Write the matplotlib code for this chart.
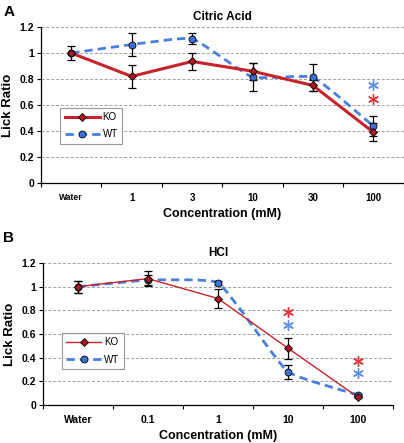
import numpy as np
import matplotlib
matplotlib.use('Agg')
import matplotlib.pyplot as plt
from matplotlib.path import Path
from matplotlib.patches import PathPatch

plt.rcParams['font.family'] = ['Liberation Sans', 'DejaVu Sans']
plt.rcParams['font.weight'] = 'bold'

# panel A - citric acid
cats_a = ['Water', '1', '3', '10', '30', '100']
ko_a = [1.0, 0.82, 0.935, 0.86, 0.75, 0.39]
ko_a_err = [0.055, 0.087, 0.064, 0.065, 0.045, 0.07]
wt_a = [1.0, 1.065, 1.11, 0.815, 0.813, 0.437]
wt_a_err = [0.0, 0.09, 0.042, 0.105, 0.105, 0.075]
star_a = {'wt': [(5, 0.75)], 'ko': [(5, 0.645)]}

# panel B - HCl
cats_b = ['Water', '0.1', '1', '10', '100']
ko_b = [1.0, 1.068, 0.90, 0.48, 0.065]
ko_b_err = [0.05, 0.065, 0.08, 0.09, 0.01]
wt_b = [1.0, 1.055, 1.032, 0.28, 0.085]
wt_b_err = [0.05, 0.04, 0.02, 0.06, 0.01]
star_b = {'ko': [(3, 0.79), (4, 0.37)], 'wt': [(3, 0.68), (4, 0.27)]}

RED = '#c8232b'
RED_FILL = '#a8191f'
BLUE = '#4a7fe0'
BLUE_FILL = '#3d6fd6'
STAR_RED = '#e8333b'
STAR_BLUE = '#5b8fea'

TENSION = 0.4


def smooth_path(ax, x, y):
    # bezier segments (spreadsheet style smoothing), built in pixel space
    pts = ax.transData.transform(np.column_stack([x, y]).astype(float))
    n = len(pts)
    verts = [pts[0]]
    codes = [Path.MOVETO]
    for i in range(n - 1):
        p0 = pts[i - 1] if i > 0 else pts[i]
        p1 = pts[i]
        p2 = pts[i + 1]
        p3 = pts[i + 2] if i + 2 < n else pts[i + 1]
        d01 = np.hypot(*(p1 - p0))
        d12 = np.hypot(*(p2 - p1))
        d23 = np.hypot(*(p3 - p2))
        f1 = d12 / (d01 + d12) if d01 > 0 else 0.5
        f2 = d12 / (d12 + d23) if d23 > 0 else 0.5
        c1 = p1 + (p2 - p0) * f1 * TENSION / 3.0
        c2 = p2 - (p3 - p1) * f2 * TENSION / 3.0
        verts += [c1, c2, p2]
        codes += [Path.CURVE4] * 3
    verts = ax.transData.inverted().transform(np.array(verts))
    return Path(verts, codes)


def panel(ax, cats, ko, ko_err, wt, wt_err, stars, title, ko_lw, water_fs, tick_fs):
    x = np.arange(len(cats))
    ax.set_xlim(-0.5, len(cats) - 0.5)
    ax.set_ylim(0, 1.2)
    ax.set_yticks(np.arange(0, 1.21, 0.2))
    ax.set_yticklabels(['0', '0.2', '0.4', '0.6', '0.8', '1', '1.2'])
    for v in np.arange(0.2, 1.21, 0.2):
        ax.axhline(v, color='#a0a0a0', lw=0.7, ls=(0, (3, 2)), zorder=0)

    # WT smoothed dashed line
    ax.add_patch(PathPatch(smooth_path(ax, x, wt), fill=False, edgecolor=BLUE,
                           lw=2.0, ls=(0, (3, 1.8)), zorder=2))
    ax.plot(x, ko, color=RED, lw=ko_lw, zorder=3)

    ax.errorbar(x, wt, yerr=wt_err, fmt='none', ecolor='black', elinewidth=0.9,
                capsize=3, capthick=0.9, zorder=4)
    ax.errorbar(x, ko, yerr=ko_err, fmt='none', ecolor='black', elinewidth=0.9,
                capsize=3, capthick=0.9, zorder=4)
    ax.plot(x, wt, 'o', ms=5, mfc=BLUE_FILL, mec='black', mew=0.6, zorder=5)
    ax.plot(x, ko, 'D', ms=4.5, mfc=RED_FILL, mec='black', mew=0.6, zorder=6)

    for (i, v) in stars['ko']:
        ax.scatter(i, v, marker=(6, 2, 0), s=50, color=STAR_RED, lw=1.0, zorder=7)
    for (i, v) in stars['wt']:
        ax.scatter(i, v, marker=(6, 2, 0), s=50, color=STAR_BLUE, lw=1.0, zorder=7)

    # legend
    h1, = ax.plot([], [], color=RED, lw=ko_lw, marker='D', ms=4.5, mfc=RED_FILL, mec='black', mew=0.6)
    h2, = ax.plot([], [], color=BLUE, lw=2.0, ls=(0, (3, 1.8)), marker='o', ms=5, mfc=BLUE_FILL, mec='black', mew=0.6)
    leg = ax.legend([h1, h2], ['KO', 'WT'], loc='lower left', bbox_to_anchor=(0.04, 0.22),
                    frameon=True, fancybox=False, edgecolor='#808080', fontsize=7,
                    handlelength=3.6, borderpad=0.45, labelspacing=0.75, handletextpad=0.3)
    leg.get_frame().set_linewidth(0.8)
    for t in leg.get_texts():
        t.set_fontweight('normal')

    ax.spines['top'].set_visible(False)
    ax.spines['right'].set_visible(False)
    ax.spines['left'].set_linewidth(0.9)
    ax.spines['bottom'].set_linewidth(0.9)

    ax.set_xticks(x)
    ax.set_xticklabels(cats, fontsize=tick_fs, fontweight='bold')
    ax.get_xticklabels()[0].set_fontsize(water_fs)
    ax.tick_params(axis='x', which='major', length=0, pad=7)
    ax.set_xticks(np.arange(-0.5, len(cats), 1.0), minor=True)
    ax.tick_params(axis='x', which='minor', length=3, direction='out', width=0.8)
    ax.tick_params(axis='y', length=3, direction='out', width=0.8, labelsize=7.5, pad=2)

    ax.set_title(title, fontsize=8.5, fontweight='bold', pad=5)
    ax.set_ylabel('Lick Ratio', fontsize=9.5, fontweight='bold', labelpad=4)
    ax.set_xlabel('Concentration (mM)', fontsize=9, fontweight='bold', labelpad=4)


fig = plt.figure(figsize=(4.04, 4.43), dpi=100)
ax_a = fig.add_axes([0.1015, 0.587, 0.8975, 0.352])
ax_b = fig.add_axes([0.1064, 0.0858, 0.8664, 0.3205])

panel(ax_a, cats_a, ko_a, ko_a_err, wt_a, wt_a_err, star_a, 'Citric Acid', 2.2, 6.2, 7)
panel(ax_b, cats_b, ko_b, ko_b_err, wt_b, wt_b_err, star_b, 'HCl', 1.0, 7.5, 7.5)

fig.text(0.008, 0.988, 'A', fontsize=11, fontweight='bold', va='top', ha='left')
fig.text(0.008, 0.478, 'B', fontsize=11, fontweight='bold', va='top', ha='left')

fig.savefig('out.png', dpi=100)
